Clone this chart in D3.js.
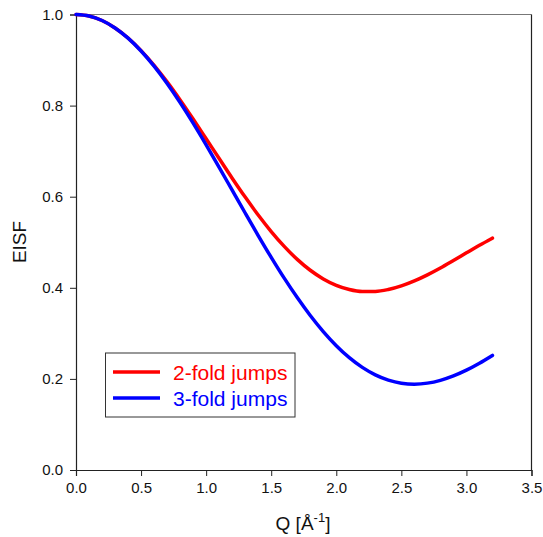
<!DOCTYPE html>
<html><head><meta charset="utf-8">
<script src="https://cdn.jsdelivr.net/npm/d3@7"></script>
<style>body{margin:0;background:#fff}svg{display:block}text{font-family:"Liberation Sans",Arial,sans-serif}</style>
</head><body>
<svg id="c" width="543" height="537"></svg>
<script>
const qValues = [0,0.1,0.2,0.3,0.4,0.5,0.6,0.7,0.8,0.9,1.0,1.1,1.2,1.3,1.4,1.5,1.6,1.7,1.8,1.9,2.0,2.1,2.2,2.3,2.4,2.5,2.6,2.7,2.8,2.9,3.0,3.1,3.2];
const twoFold = [1.0,0.9967,0.9868,0.9705,0.9484,0.9207,0.8884,0.8520,0.8124,0.7705,0.7273,0.6838,0.6407,0.5991,0.5598,0.5235,0.4909,0.4624,0.4385,0.4195,0.4054,0.3962,0.3919,0.3920,0.3962,0.4041,0.4151,0.4285,0.4436,0.4600,0.4767,0.4933,0.5091];
const threeFold = [1.0,0.9967,0.9868,0.9705,0.9481,0.9199,0.8866,0.8486,0.8067,0.7615,0.7138,0.6645,0.6143,0.5642,0.5148,0.4669,0.4212,0.3785,0.3392,0.3040,0.2730,0.2467,0.2253,0.2089,0.1973,0.1906,0.1885,0.1907,0.1969,0.2066,0.2192,0.2344,0.2515];
const seriesNames = ["2-fold jumps","3-fold jumps"];
const seriesColors = ["#ff0000","#0000ff"];
const xTicks = [0,0.5,1.0,1.5,2.0,2.5,3.0,3.5];
const yTicks = [0,0.2,0.4,0.6,0.8,1.0];

const svg = d3.select("#c");
const L=76, R=531.5, T=14.5, B=470;
const x = d3.scaleLinear().domain([0,3.5]).range([L,R]);
const y = d3.scaleLinear().domain([0,1.0]).range([B,T]);

// frame
svg.append("line").attr("x1",L).attr("x2",R).attr("y1",T).attr("y2",T).attr("stroke","#777").attr("stroke-width",1.2);
svg.append("line").attr("x1",R).attr("x2",R).attr("y1",T).attr("y2",B).attr("stroke","#222").attr("stroke-width",1.2);

const xAxis = svg.append("g").attr("transform",`translate(0,${B})`)
  .call(d3.axisBottom(x).tickValues(xTicks).tickFormat(d3.format(".1f")).tickSizeOuter(0).tickSize(6).tickPadding(6));
const yAxis = svg.append("g").attr("transform",`translate(${L},0)`)
  .call(d3.axisLeft(y).tickValues(yTicks).tickFormat(d3.format(".1f")).tickSizeOuter(0).tickSize(6).tickPadding(7));
[xAxis,yAxis].forEach(a=>{
  a.selectAll("path").attr("stroke","#222").attr("stroke-width",1.2);
  a.selectAll("line").attr("stroke","#222").attr("stroke-width",1);
  a.selectAll("text").attr("font-size",15).attr("fill","#111").style("font-family","'Liberation Sans',Arial,sans-serif");
});

const line = d3.line().x((d,i)=>x(qValues[i])).y(d=>y(d)).curve(d3.curveMonotoneX);
[twoFold,threeFold].forEach((s,k)=>{
  svg.append("path").datum(s).attr("d",line).attr("fill","none")
    .attr("stroke",seriesColors[k]).attr("stroke-width",3.5).attr("stroke-linecap","round");
});

// axis titles
svg.append("text").attr("transform","translate(26,242) rotate(-90)").attr("text-anchor","middle")
  .attr("font-size",19).attr("fill","#111").text("EISF");
const xt = svg.append("text").attr("x",303).attr("y",530).attr("text-anchor","middle").attr("font-size",19).attr("fill","#111");
xt.append("tspan").text("Q [Å");
xt.append("tspan").attr("dy",-8).attr("font-size",13).text("-1");
xt.append("tspan").attr("dy",8).text("]");

// legend
const lg = svg.append("g");
lg.append("rect").attr("x",105.5).attr("y",353).attr("width",189.5).attr("height",64)
  .attr("fill","#fff").attr("stroke","#333").attr("stroke-width",1);
seriesNames.forEach((n,k)=>{
  const yy = 372 + k*26;
  lg.append("line").attr("x1",113).attr("x2",160).attr("y1",yy).attr("y2",yy)
    .attr("stroke",seriesColors[k]).attr("stroke-width",3.5);
  lg.append("text").attr("x",173).attr("y",yy+7.5).attr("font-size",21).attr("fill",seriesColors[k]).text(n);
});
</script>
</body></html>
